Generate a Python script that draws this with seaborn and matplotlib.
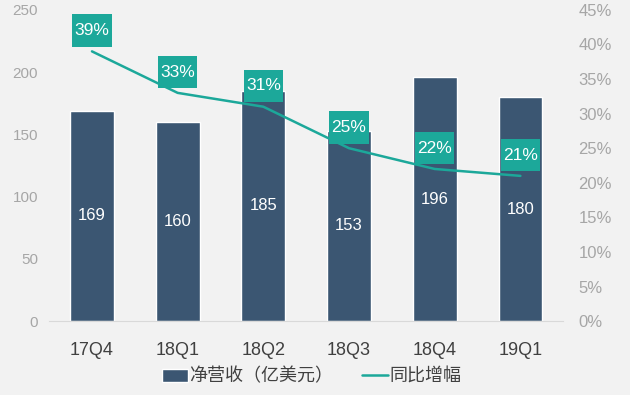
import matplotlib
matplotlib.use("Agg")
import matplotlib.pyplot as plt
from matplotlib.path import Path
import seaborn as sns
import pandas as pd

# Data
quarters = ["17Q4", "18Q1", "18Q2", "18Q3", "18Q4", "19Q1"]
revenue = [169, 160, 185, 153, 196, 180]          # 亿美元
growth = [39, 33, 31, 25, 22, 21]                 # %

bar_color = "#3b5672"
teal = "#1ca89a"
bg = "#f2f2f2"

sns.set_style("white")
plt.rcParams["font.family"] = ["Liberation Sans", "Noto Sans CJK SC", "DejaVu Sans"]

df = pd.DataFrame({"季度": quarters, "净营收": revenue, "同比": growth})


# label box: narrow on the sides, tall top and bottom
def tall_box(x0, y0, width, height, mutation_size):
    px, py = 0.12 * mutation_size, 0.5 * mutation_size
    x0, y0 = x0 - px, y0 - py
    x1, y1 = x0 + width + 2 * px, y0 + height + 2 * py
    return Path([(x0, y0), (x1, y0), (x1, y1), (x0, y1), (x0, y0)], closed=True)


fig = plt.figure(figsize=(6.3, 3.95), dpi=100, facecolor=bg)
ax = fig.add_axes([0.078, 0.187, 0.816, 0.788])
ax.set_facecolor(bg)

sns.barplot(data=df, x="季度", y="净营收", color=bar_color, width=0.51,
            saturation=1, ax=ax, label="净营收（亿美元）")
ax.set_ylim(0, 250)
ax.set_yticks(range(0, 251, 50))
ax.set_xlabel("")
ax.set_ylabel("")

# bar value labels in the middle of each bar
for p, v in zip(ax.patches, revenue):
    ax.text(p.get_x() + p.get_width() / 2, v / 2, str(v), ha="center", va="center",
            color="white", fontsize=12)

ax2 = ax.twinx()
sns.lineplot(data=df, x="季度", y="同比", color=teal, linewidth=1.8, ax=ax2,
             label="同比增幅", legend=False)
ax2.set_ylim(0, 45)
ax2.set_yticks(range(0, 46, 5))
ax2.set_yticklabels([f"{t}%" for t in range(0, 46, 5)])
ax2.set_ylabel("")

for i, g in enumerate(growth):
    ax2.annotate(f"{g}%", (i, g), xytext=(0, 15), textcoords="offset points",
                 ha="center", va="center", color="white", fontsize=12.5,
                 bbox=dict(boxstyle=tall_box, fc=teal, ec="none"))

for a in (ax, ax2):
    for s in a.spines.values():
        s.set_visible(False)
ax.spines["bottom"].set_visible(True)
ax.spines["bottom"].set_color("#d9d9d9")
ax.tick_params(axis="y", length=0, pad=8, labelsize=11, labelcolor="#a6a6a6")
ax.tick_params(axis="x", length=0, pad=15, labelsize=13, labelcolor="#404040")
ax2.tick_params(axis="y", length=0, pad=11, labelsize=12, labelcolor="#a6a6a6")
ax.set_xlim(-0.5, 5.5)

h1, l1 = ax.get_legend_handles_labels()
h2, l2 = ax2.get_legend_handles_labels()
if ax.get_legend():
    ax.get_legend().remove()
fig.legend(h1 + h2, l1 + l2, loc="center", bbox_to_anchor=(0.495, 0.046), ncol=2,
           frameon=False, fontsize=13, labelcolor="#404040", handlelength=1.4,
           handletextpad=0.1, columnspacing=1.6)

fig.savefig("out.png", dpi=100, facecolor=bg)
